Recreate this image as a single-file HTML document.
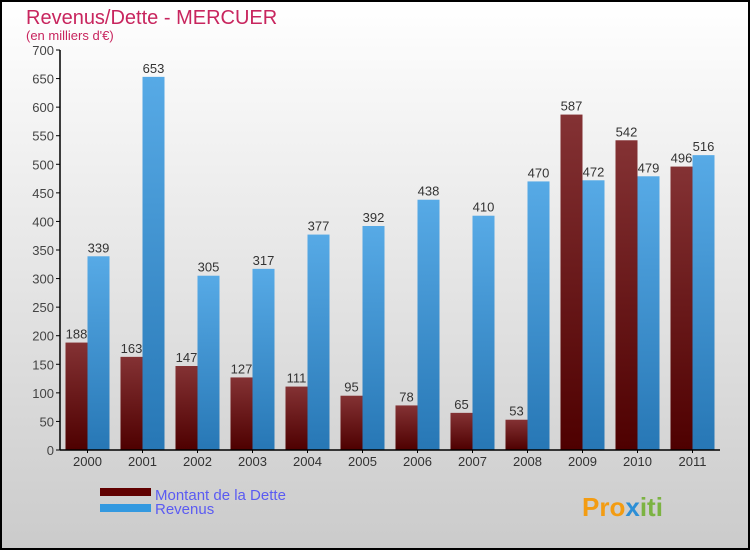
<!DOCTYPE html>
<html><head><meta charset="utf-8"><style>
html,body{margin:0;padding:0;}
body{width:750px;height:550px;overflow:hidden;font-family:"Liberation Sans",sans-serif;}
</style></head><body>
<svg id="chart" width="750" height="550" xmlns="http://www.w3.org/2000/svg">
<defs>
<linearGradient id="bg" x1="0" y1="0" x2="0" y2="1"><stop offset="0" stop-color="#ffffff"/><stop offset="1" stop-color="#cbcbcb"/></linearGradient>
<linearGradient id="gd" x1="0" y1="0" x2="0" y2="1"><stop offset="0" stop-color="#843234"/><stop offset="1" stop-color="#4e0000"/></linearGradient>
<linearGradient id="gr" x1="0" y1="0" x2="0" y2="1"><stop offset="0" stop-color="#57aae6"/><stop offset="1" stop-color="#2777b5"/></linearGradient>
</defs>
<rect x="1" y="1" width="748" height="548" fill="url(#bg)" stroke="#000" stroke-width="2"/>
<text x="26" y="24" font-size="20" fill="#c8255e">Revenus/Dette - MERCUER</text>
<text x="26" y="40" font-size="13" fill="#c8255e">(en milliers d'€)</text>
<g id="plot"></g>
<g>
<rect x="100" y="488" width="51" height="8" fill="#600000"/>
<text x="155" y="500" font-size="15" fill="#5b5bf2">Montant de la Dette</text>
<rect x="100" y="504" width="51" height="8" fill="#3399e0"/>
<text x="155" y="514" font-size="15" fill="#5b5bf2">Revenus</text>
</g>
<text x="582" y="516" font-size="26" font-weight="bold" fill="#f39c12">Pro<tspan fill="#2d8fd6">x</tspan><tspan fill="#7cb342">iti</tspan></text>
</svg>
<script>
const years=["2000","2001","2002","2003","2004","2005","2006","2007","2008","2009","2010","2011"];
const dette=[188,163,147,127,111,95,78,65,53,587,542,496];
const revenus=[339,653,305,317,377,392,438,410,470,472,479,516];
const yTicks=[0,50,100,150,200,250,300,350,400,450,500,550,600,650,700];
const NS="http://www.w3.org/2000/svg";
const g=document.getElementById('plot');
const x0=60,y0=450,groupW=55,barW=22,yMax=700,plotH=400;
function y(v){return y0-v/yMax*plotH;}
function gx(i){return x0+i*groupW;}
function mk(tag,attrs){const e=document.createElementNS(NS,tag);for(const k in attrs)e.setAttribute(k,attrs[k]);g.appendChild(e);return e;}
function txt(s,attrs){const e=mk('text',attrs);e.textContent=s;return e;}
yTicks.forEach(t=>{
 const tk=mk('line',{x1:x0-4,x2:x0,y1:y(t),y2:y(t),stroke:'#000'});
 
 
 const l=txt(t,{x:x0-6,y:y(t)+5,'font-size':13,fill:'#444','text-anchor':'end'});
 
 
});
years.forEach((yr,i)=>{
 const xd=gx(i)+5.5, xr=xd+barW;
 const b1=mk('rect',{x:xd,y:y(dette[i]),width:barW,height:y0-y(dette[i]),fill:'url(#gd)'});
 
 
 const b2=mk('rect',{x:xr,y:y(revenus[i]),width:barW,height:y0-y(revenus[i]),fill:'url(#gr)'});
 
 
 const l1=txt(dette[i],{x:xd+barW/2,y:y(dette[i])-4,'font-size':13,fill:'#333','text-anchor':'middle'});
 
 
 const l2=txt(revenus[i],{x:xr+barW/2,y:y(revenus[i])-4,'font-size':13,fill:'#333','text-anchor':'middle'});
 
 
 const xl=txt(yr,{x:gx(i)+groupW/2,y:y0+16,'font-size':13,fill:'#333','text-anchor':'middle'});
 
 
 const xt=mk('line',{x1:gx(i)+groupW/2,x2:gx(i)+groupW/2,y1:y0,y2:y0+3,stroke:'#000'});
 
 
});
const ya=mk('line',{x1:x0,x2:x0,y1:y(yMax),y2:y0,stroke:'#000','stroke-width':1.5});


const xa=mk('line',{x1:x0,x2:x0+groupW*years.length,y1:y0,y2:y0,stroke:'#000','stroke-width':1.5});


</script>
</body></html>
